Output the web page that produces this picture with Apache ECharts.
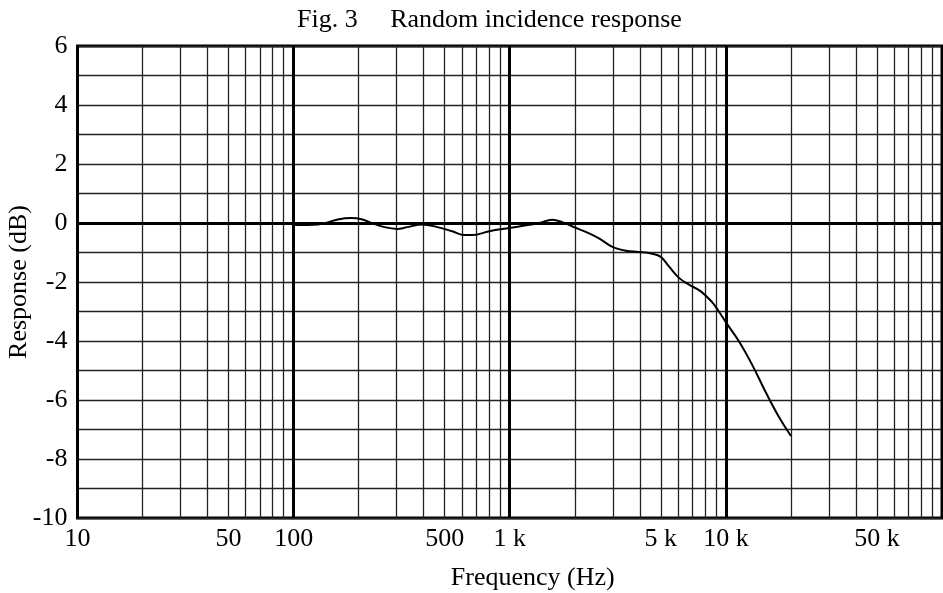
<!DOCTYPE html>
<html>
<head>
<meta charset="utf-8">
<style>
html,body{margin:0;padding:0;background:#fff;}
#chart{width:943px;height:593px;}
</style>
<script src="https://cdn.jsdelivr.net/npm/echarts@6/dist/echarts.min.js"></script>
</head>
<body>
<div id="chart"></div>
<script>
// ---- data ----
const freqHz = [100, 130, 160, 185, 206, 229, 263, 302, 336, 394, 463, 542, 617, 671, 804, 995, 1190, 1370, 1570, 1750, 1950, 2330, 2600, 2970, 3450, 3960, 4550, 5000, 5450, 6070, 6750, 7600, 8630, 9180, 9970, 11490, 13240, 15250, 17580, 20000];
const responseDb = [-0.07, -0.05, 0.12, 0.17, 0.13, 0.0, -0.14, -0.2, -0.14, -0.05, -0.14, -0.28, -0.41, -0.41, -0.28, -0.17, -0.08, 0.0, 0.11, 0.03, -0.12, -0.35, -0.53, -0.8, -0.94, -0.98, -1.04, -1.15, -1.47, -1.86, -2.09, -2.3, -2.68, -2.95, -3.35, -4.01, -4.81, -5.72, -6.57, -7.22];

const xLabelValues = [10, 50, 100, 500, 1000, 5000, 10000, 50000];
const xLabelTexts = ['10', '50', '100', '500', '1 k', '5 k', '10 k', '50 k'];
const xMinorGrid = [20, 30, 40, 50, 60, 70, 80, 90,
                    200, 300, 400, 500, 600, 700, 800, 900,
                    2000, 3000, 4000, 5000, 6000, 7000, 8000, 9000,
                    20000, 30000, 40000, 50000, 60000, 70000, 80000, 90000];
const yTickLabels = [-10, -8, -6, -4, -2, 0, 2, 4, 6];

const titleText = 'Fig. 3     Random incidence response';
const xName = 'Frequency (Hz)';
const yName = 'Response (dB)';

// ---- chart ----
const FONT = 'Liberation Serif';
const chart = echarts.init(document.getElementById('chart'), null, {renderer: 'canvas'});
const seriesData = freqHz.map((f, i) => [f, responseDb[i]]);

chart.setOption({
  animation: false,
  backgroundColor: '#ffffff',
  title: {
    text: titleText,
    left: 292,
    top: 2,
    textStyle: {fontFamily: FONT, fontSize: 26, fontWeight: 'normal', color: '#000'}
  },
  grid: {
    left: 77.5, right: 1, top: 46, bottom: 75,
    outerBoundsMode: 'none',
    containLabel: false,
    show: true, borderWidth: 3, borderColor: '#000', backgroundColor: 'transparent'
  },
  xAxis: [{
    type: 'log', logBase: 10, min: 10, max: 100000,
    name: xName, nameLocation: 'middle', nameGap: 47, nameMoveOverlap: false,
    nameTextStyle: {fontFamily: FONT, fontSize: 26, color: '#000', padding: [0, 0, 0, 46]},
    axisLine: {show: false},
    axisTick: {show: false},
    axisLabel: {
      customValues: xLabelValues,
      margin: 8,
      fontFamily: FONT, fontSize: 26, color: '#000',
      formatter: function (v) {
        const i = xLabelValues.findIndex(x => Math.abs(x - v) / x < 1e-6);
        return i >= 0 ? xLabelTexts[i] : '';
      }
    },
    splitLine: {show: true, lineStyle: {color: '#000', width: 3}}
  }, {
    type: 'log', logBase: 10, min: 10, max: 100000,
    position: 'bottom',
    axisLine: {show: false},
    axisLabel: {show: false},
    axisTick: {show: false, customValues: xMinorGrid},
    splitLine: {show: true, lineStyle: {color: '#222', width: 1.3}}
  }],
  yAxis: {
    type: 'value', min: -10, max: 6, interval: 1,
    name: yName, nameLocation: 'middle', nameGap: 45, nameRotate: 90, nameMoveOverlap: false,
    nameTextStyle: {fontFamily: FONT, fontSize: 26, color: '#000'},
    axisLine: {show: false},
    axisTick: {show: false},
    axisLabel: {
      margin: 10, fontFamily: FONT, fontSize: 26, color: '#000',
      formatter: function (v) { return yTickLabels.indexOf(v) >= 0 ? String(v) : ''; }
    },
    splitLine: {show: true, lineStyle: {color: '#222', width: 1.3}}
  },
  series: [{
    type: 'line',
    xAxisIndex: 0,
    data: seriesData,
    smooth: 0.4,
    showSymbol: false,
    lineStyle: {color: '#000', width: 2},
    z: 5,
    markLine: {
      silent: true,
      symbol: 'none',
      label: {show: false},
      lineStyle: {color: '#000', width: 3, type: 'solid'},
      data: [{yAxis: 0}]
    }
  }]
});
</script>
</body>
</html>
